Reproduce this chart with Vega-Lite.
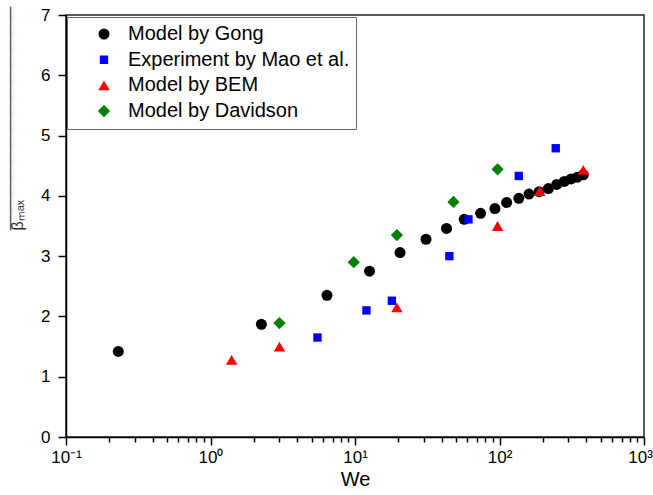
{
  "$schema": "https://vega.github.io/schema/vega-lite/v6.json",
  "width": 578,
  "height": 422,
  "autosize": {"type": "none"},
  "padding": {"left": 66, "top": 15, "right": 9, "bottom": 58},
  "background": "white",
  "config": {
    "font": "Liberation Sans",
    "view": {"stroke": "#222", "strokeWidth": 1.5}
  },
  "data": {
    "values": [
      {"We": 0.23, "beta": 1.42, "source": "Model by Gong"},
      {"We": 2.25, "beta": 1.87, "source": "Model by Gong"},
      {"We": 6.4, "beta": 2.35, "source": "Model by Gong"},
      {"We": 12.6, "beta": 2.75, "source": "Model by Gong"},
      {"We": 20.5, "beta": 3.06, "source": "Model by Gong"},
      {"We": 31, "beta": 3.28, "source": "Model by Gong"},
      {"We": 43, "beta": 3.46, "source": "Model by Gong"},
      {"We": 57, "beta": 3.61, "source": "Model by Gong"},
      {"We": 74, "beta": 3.71, "source": "Model by Gong"},
      {"We": 93, "beta": 3.79, "source": "Model by Gong"},
      {"We": 112, "beta": 3.89, "source": "Model by Gong"},
      {"We": 136, "beta": 3.96, "source": "Model by Gong"},
      {"We": 160, "beta": 4.03, "source": "Model by Gong"},
      {"We": 188, "beta": 4.07, "source": "Model by Gong"},
      {"We": 218, "beta": 4.12, "source": "Model by Gong"},
      {"We": 249, "beta": 4.19, "source": "Model by Gong"},
      {"We": 281, "beta": 4.24, "source": "Model by Gong"},
      {"We": 313, "beta": 4.28, "source": "Model by Gong"},
      {"We": 346, "beta": 4.31, "source": "Model by Gong"},
      {"We": 380, "beta": 4.35, "source": "Model by Gong"},
      {"We": 5.5, "beta": 1.65, "source": "Experiment by Mao et al."},
      {"We": 12, "beta": 2.1, "source": "Experiment by Mao et al."},
      {"We": 18, "beta": 2.26, "source": "Experiment by Mao et al."},
      {"We": 45, "beta": 3.0, "source": "Experiment by Mao et al."},
      {"We": 61, "beta": 3.61, "source": "Experiment by Mao et al."},
      {"We": 136, "beta": 4.33, "source": "Experiment by Mao et al."},
      {"We": 245, "beta": 4.79, "source": "Experiment by Mao et al."},
      {"We": 1.4, "beta": 1.28, "source": "Model by BEM"},
      {"We": 3, "beta": 1.5, "source": "Model by BEM"},
      {"We": 19.5, "beta": 2.15, "source": "Model by BEM"},
      {"We": 97, "beta": 3.5, "source": "Model by BEM"},
      {"We": 190, "beta": 4.08, "source": "Model by BEM"},
      {"We": 380, "beta": 4.43, "source": "Model by BEM"},
      {"We": 3, "beta": 1.89, "source": "Model by Davidson"},
      {"We": 9.8, "beta": 2.9, "source": "Model by Davidson"},
      {"We": 19.5, "beta": 3.35, "source": "Model by Davidson"},
      {"We": 48, "beta": 3.9, "source": "Model by Davidson"},
      {"We": 97, "beta": 4.44, "source": "Model by Davidson"}
    ]
  },
  "mark": {"type": "point", "filled": true, "opacity": 1, "strokeWidth": 0},
  "encoding": {
    "x": {
      "field": "We",
      "type": "quantitative",
      "scale": {"type": "log", "domain": [0.1, 1000], "nice": false},
      "axis": {
        "title": "We",
        "titleFontSize": 20,
        "titleFontWeight": "normal",
        "titleColor": "black",
        "titlePadding": 4,
        "values": [0.1, 0.2, 0.3, 0.4, 0.5, 0.6, 0.7, 0.8, 0.9, 1, 2, 3, 4, 5, 6, 7, 8, 9, 10, 20, 30, 40, 50, 60, 70, 80, 90, 100, 200, 300, 400, 500, 600, 700, 800, 900, 1000],
        "labelExpr": "datum.value == 0.1 ? '10⁻¹' : datum.value == 1 ? '10⁰' : datum.value == 10 ? '10¹' : datum.value == 100 ? '10²' : datum.value == 1000 ? '10³' : ''",
        "labelFontSize": 17,
        "labelColor": "black",
        "labelPadding": 4,
        "labelFlush": false,
        "labelOverlap": false,
        "labelOffset": {"condition": {"test": "datum.value == 1000", "value": -4}, "value": 0},
        "tickSize": {"condition": {"test": "indexof([0.1, 1, 10, 100, 1000], datum.value) >= 0", "value": 8}, "value": 5},
        "tickColor": "black",
        "tickWidth": 1.5,
        "domainColor": "black",
        "domainWidth": 1.5,
        "grid": false
      }
    },
    "y": {
      "field": "beta",
      "type": "quantitative",
      "scale": {"domain": [0, 7], "nice": false},
      "axis": {
        "title": ["——————————————", "βₘₐₓ"],
        "titleFontSize": 16,
        "titleFontWeight": "normal",
        "titleColor": "#333",
        "titleAngle": -90,
        "titleAlign": "left",
        "titleBaseline": "top",
        "titleLineHeight": 8,
        "titleX": -65,
        "titleY": 215,
        "values": [0, 1, 2, 3, 4, 5, 6, 7],
        "labelFontSize": 17,
        "labelColor": "black",
        "labelPadding": 8,
        "tickSize": 8,
        "tickColor": "black",
        "tickWidth": 1.5,
        "domainColor": "black",
        "domainWidth": 1.5,
        "grid": false
      }
    },
    "color": {
      "field": "source",
      "type": "nominal",
      "scale": {
        "domain": ["Model by Gong", "Experiment by Mao et al.", "Model by BEM", "Model by Davidson"],
        "range": ["#000000", "#0000ff", "#ff0000", "#007f00"]
      },
      "legend": {
        "title": null,
        "orient": "none",
        "legendX": 1,
        "legendY": 2,
        "strokeColor": "#666",
        "fillColor": "white",
        "padding": 6,
        "labelFontSize": 20,
        "labelColor": "black",
        "labelLimit": 400,
        "symbolSize": 60,
        "symbolOffset": 21,
        "labelOffset": 14,
        "rowPadding": 3.7,
        "clipHeight": 22
      }
    },
    "shape": {
      "field": "source",
      "type": "nominal",
      "scale": {
        "domain": ["Model by Gong", "Experiment by Mao et al.", "Model by BEM", "Model by Davidson"],
        "range": ["circle", "square", "triangle-up", "diamond"]
      }
    },
    "size": {
      "field": "source",
      "type": "nominal",
      "scale": {
        "type": "ordinal",
        "domain": ["Model by Gong", "Experiment by Mao et al.", "Model by BEM", "Model by Davidson"],
        "range": [121, 70, 130, 150]
      },
      "legend": null
    }
  }
}
